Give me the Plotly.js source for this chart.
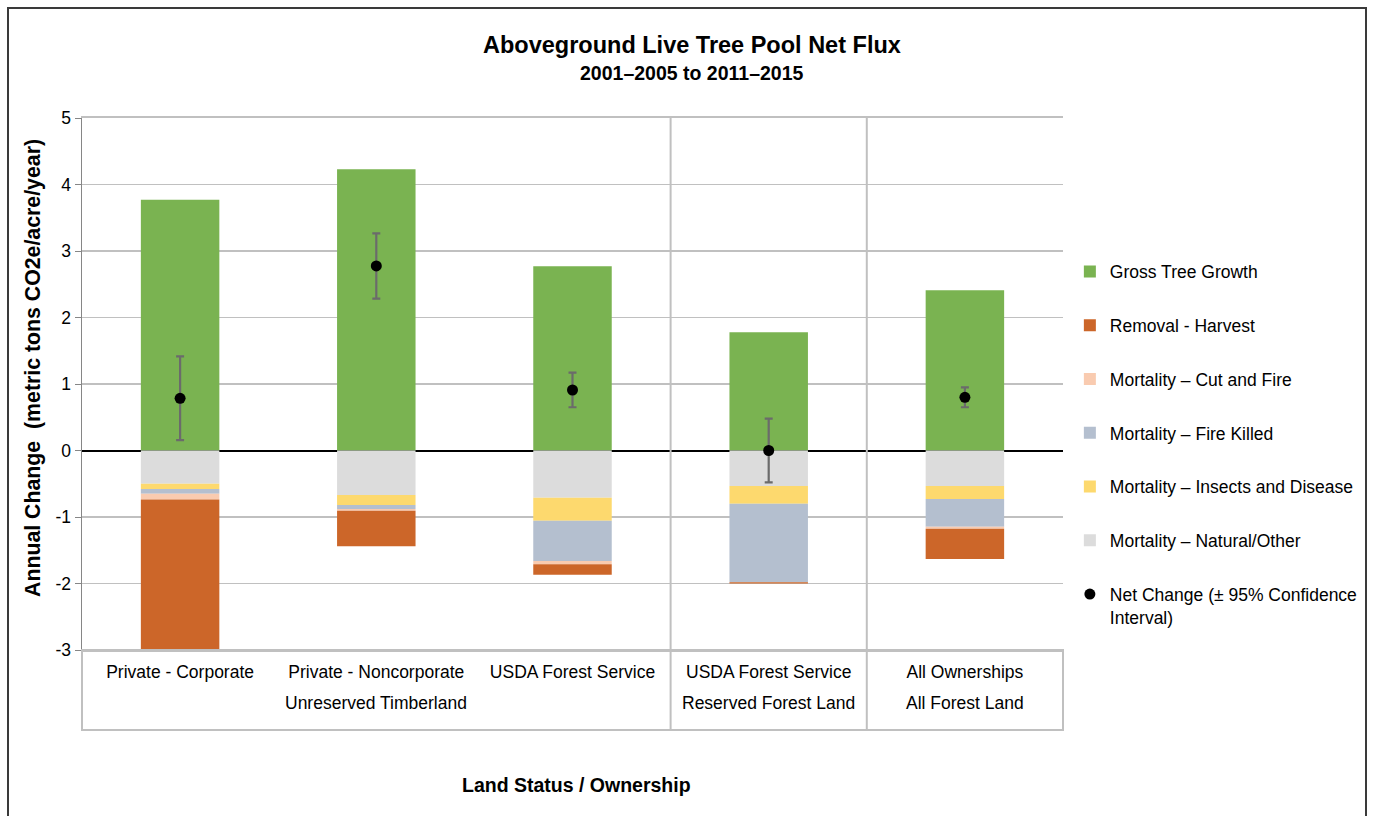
<!DOCTYPE html>
<html>
<head>
<meta charset="utf-8">
<script src="https://cdn.plot.ly/plotly-3.0.1.min.js"></script>
<style>html,body{margin:0;padding:0;background:#fff;}#chart{width:1375px;height:816px;}</style>
</head>
<body>
<div id="chart"></div>
<script>
// ---- data ----
const categories = ['Private - Corporate', 'Private - Noncorporate', 'USDA Forest Service', 'USDA Forest Service', 'All Ownerships'];
const groupLabels = ['Unreserved Timberland', 'Reserved Forest Land', 'All Forest Land'];
const groupLabelPos = [1, 3, 4];
const grossGrowth = [3.77, 4.23, 2.77, 1.78, 2.41];
const mortalityNatural = [-0.50, -0.67, -0.71, -0.535, -0.535];
const mortalityInsects = [-0.08, -0.15, -0.345, -0.265, -0.195];
const mortalityFire = [-0.07, -0.06, -0.605, -1.18, -0.415];
const mortalityCutFire = [-0.085, -0.025, -0.05, 0, -0.03];
const removalHarvest = [-2.26, -0.535, -0.16, -0.02, -0.455];
const netChange = [0.785, 2.775, 0.91, 0.0, 0.80];
const netCI = [0.63, 0.49, 0.26, 0.48, 0.15];
const yTicks = [-3, -2, -1, 0, 1, 2, 3, 4, 5];

const xIdx = categories.map((_, i) => i);
const FONT = 'Liberation Sans, Arial, sans-serif';

function barTrace(name, y, color, rank) {
  return {
    type: 'bar', name: name, x: xIdx, y: y, width: 0.4,
    marker: {color: color, line: {width: 0}},
    legendgroup: name, legendrank: rank, hoverinfo: 'y+name'
  };
}

const traces = [
  barTrace('Gross Tree Growth', grossGrowth, '#7ab351', 1),
  barTrace('Mortality \u2013 Natural/Other', mortalityNatural, '#dcdcdc', 6),
  barTrace('Mortality \u2013 Insects and Disease', mortalityInsects, '#fdd96e', 5),
  barTrace('Mortality \u2013 Fire Killed', mortalityFire, '#b4bfcf', 4),
  barTrace('Mortality \u2013 Cut and Fire', mortalityCutFire, '#f9cbb0', 3),
  barTrace('Removal - Harvest', removalHarvest, '#cc6629', 2),
  {
    type: 'scatter', mode: 'markers', name: 'Net Change (\u00b1 95% Confidence<br>Interval)',
    x: xIdx, y: netChange,
    marker: {color: '#000', size: 11},
    error_y: {type: 'data', array: netCI, visible: true, color: '#6b6b6b', thickness: 2.2, width: 4},
    legendgroup: 'net', legendrank: 7
  }
];

const annotations = [
  {text: '<b>Aboveground Live Tree Pool Net Flux</b>', xref: 'paper', yref: 'paper', x: 0.622, y: 605 / 532, xanchor: 'center', yanchor: 'middle', showarrow: false, font: {family: FONT, size: 23.5, color: '#000'}},
  {text: '<b>2001\u20132005 to 2011\u20132015</b>', xref: 'paper', yref: 'paper', x: 0.622, y: 577 / 532, xanchor: 'center', yanchor: 'middle', showarrow: false, font: {family: FONT, size: 19.5, color: '#000'}},
  {text: '<b>Land Status / Ownership</b>', xref: 'paper', yref: 'paper', x: 0.5036, y: -135 / 532, xanchor: 'center', yanchor: 'middle', showarrow: false, font: {family: FONT, size: 19.5, color: '#000'}},
  {text: '<b>Annual Change  (metric tons CO2e/acre/year)</b>', xref: 'paper', yref: 'paper', x: -49 / 981, y: 282 / 532, xanchor: 'center', yanchor: 'middle', textangle: -90, showarrow: false, font: {family: FONT, size: 21.3, color: '#000'}}
];
groupLabels.forEach((t, i) => {
  annotations.push({text: t, xref: 'x', yref: 'paper', x: groupLabelPos[i], y: -53 / 532, xanchor: 'center', yanchor: 'middle', showarrow: false, font: {family: FONT, size: 17.5, color: '#000'}});
});

const gridCol = '#c0c0c0';
const tableBottom = -80 / 532;
const shapes = [
  {type: 'line', xref: 'paper', yref: 'paper', x0: 0.6, x1: 0.6, y0: tableBottom, y1: 1, line: {color: gridCol, width: 2}},
  {type: 'line', xref: 'paper', yref: 'paper', x0: 0.8, x1: 0.8, y0: tableBottom, y1: 1, line: {color: gridCol, width: 2}},
  {type: 'rect', xref: 'paper', yref: 'paper', x0: 0, x1: 1, y0: tableBottom, y1: 0, line: {color: gridCol, width: 2}},
  {type: 'rect', xref: 'paper', yref: 'paper', x0: -74 / 981, x1: 1284 / 981, y0: -175 / 532, y1: 642 / 532, line: {color: '#3a3a3a', width: 2}}
];

const layout = {
  width: 1375, height: 816,
  margin: {l: 82, r: 312, t: 118, b: 166},
  paper_bgcolor: '#fff', plot_bgcolor: '#fff',
  font: {family: FONT, size: 17.5, color: '#000'},
  barmode: 'relative',
  showlegend: true,
  legend: {
    x: 1.007, y: 0.745, xanchor: 'left', yanchor: 'top',
    font: {family: FONT, size: 17.5, color: '#000'},
    traceorder: 'grouped', tracegroupgap: 28, valign: 'top',
    bgcolor: 'rgba(0,0,0,0)'
  },
  xaxis: {
    range: [-0.5, 4.5], tickvals: xIdx, ticktext: categories,
    showgrid: false, zeroline: false, showline: true, mirror: true,
    linecolor: gridCol, linewidth: 2, ticks: '', ticklabelstandoff: 5,
    tickfont: {family: FONT, size: 17.5, color: '#000'}, fixedrange: true
  },
  yaxis: {
    range: [-3, 5], tickvals: yTicks, ticktext: yTicks.map(String),
    showgrid: true, gridcolor: gridCol, gridwidth: 1.5,
    zeroline: true, zerolinecolor: '#000', zerolinewidth: 2,
    showline: true, linecolor: '#868686', linewidth: 1.5,
    ticks: 'outside', ticklen: 6, tickcolor: '#868686',
    tickfont: {family: FONT, size: 17.5, color: '#000'},
    automargin: false, fixedrange: true
  },
  annotations: annotations,
  shapes: shapes
};

Plotly.newPlot('chart', traces, layout, {displayModeBar: false, staticPlot: true});
</script>
</body>
</html>
